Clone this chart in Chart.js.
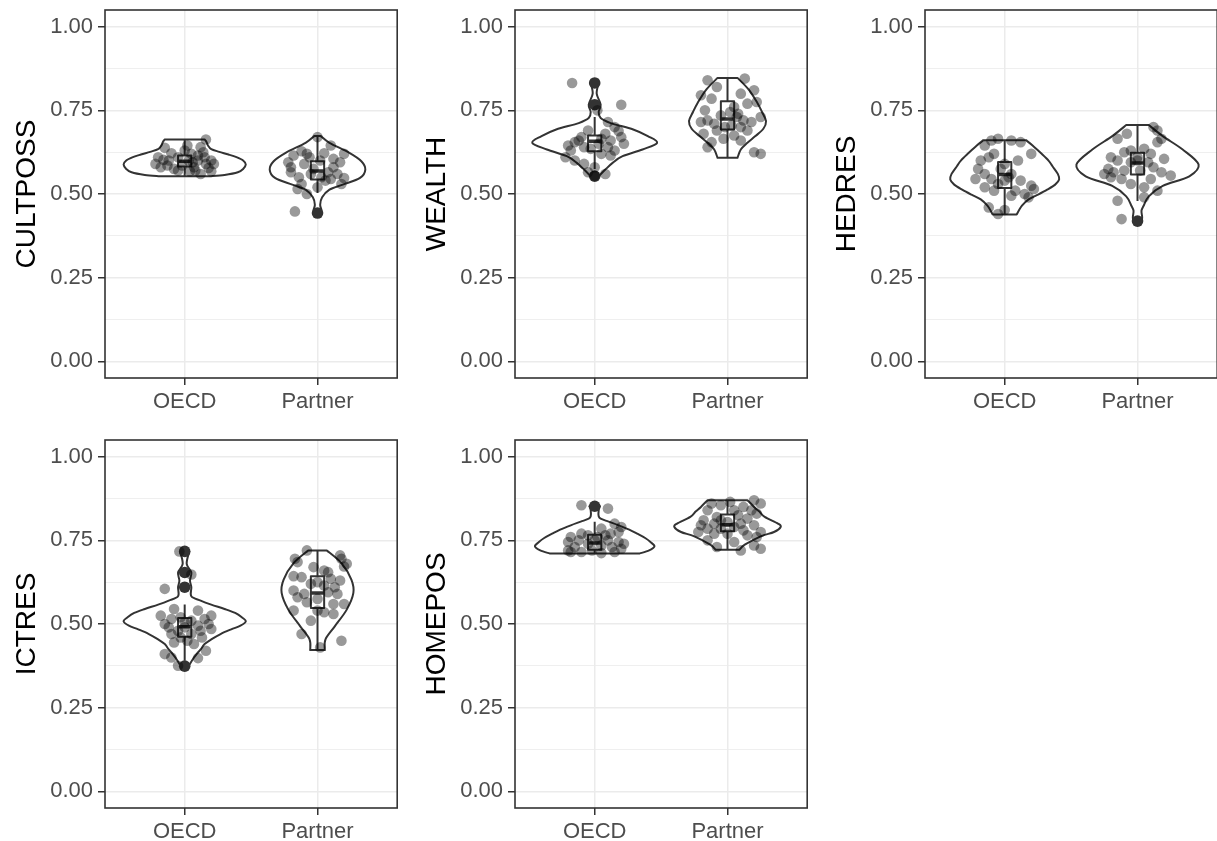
<!DOCTYPE html>
<html>
<head>
<meta charset="utf-8">
<script src="https://cdn.jsdelivr.net/npm/chart.js@4.4.0/dist/chart.umd.min.js"></script>
<style>
  body { margin: 0; background: #fff; overflow: hidden; width: 1217px; height: 841px; position: relative; }
  .panel { position: absolute; width: 403px; height: 420px; }
</style>
</head>
<body>
<div class="panel" style="left:0;top:0"><canvas id="c0" width="403" height="420"></canvas></div>
<div class="panel" style="left:410px;top:0"><canvas id="c1" width="403" height="420"></canvas></div>
<div class="panel" style="left:820px;top:0"><canvas id="c2" width="403" height="420"></canvas></div>
<div class="panel" style="left:0;top:430px"><canvas id="c3" width="403" height="420"></canvas></div>
<div class="panel" style="left:410px;top:430px"><canvas id="c4" width="403" height="420"></canvas></div>
<script>
var groups = ['OECD', 'Partner'];
var yTicks = [0, 0.125, 0.25, 0.375, 0.5, 0.625, 0.75, 0.875, 1];
var yLabels = {0: '0.00', 0.25: '0.25', 0.5: '0.50', 0.75: '0.75', 1: '1.00'};

// jittered points: [offset from group, value]
var cultpossOecd = [[0.16,0.663],[-0.15,0.638],[0.02,0.645],[0.12,0.64],[-0.2,0.61],[-0.22,0.59],[-0.12,0.6],[-0.18,0.58],[-0.08,0.575],[0.05,0.62],[0.1,0.615],[0.15,0.61],[0.2,0.6],[0.22,0.59],[0.18,0.578],[0.08,0.57],[0.12,0.56],[0.2,0.568],[-0.02,0.585],[0.03,0.6],[-0.05,0.61],[0.06,0.595],[0.1,0.6],[-0.1,0.622],[0.0,0.63],[0.14,0.625],[-0.16,0.602],[-0.05,0.57],[0.07,0.58],[0.16,0.59],[0.04,0.568],[-0.13,0.585]];
var cultpossPartner = [[0.0,0.67],[0.1,0.645],[-0.12,0.628],[0.2,0.62],[-0.18,0.615],[-0.08,0.62],[0.05,0.622],[-0.22,0.595],[-0.2,0.58],[0.17,0.595],[0.12,0.58],[-0.1,0.59],[-0.03,0.575],[0.08,0.565],[0.15,0.56],[0.2,0.548],[0.03,0.55],[-0.05,0.56],[-0.14,0.55],[-0.2,0.565],[0.1,0.545],[0.18,0.53],[-0.12,0.53],[-0.15,0.515],[-0.08,0.5],[-0.17,0.448],[0.06,0.54],[0.02,0.6],[-0.06,0.61],[0.12,0.605],[0.0,0.52]];
var wealthOecd = [[-0.17,0.832],[0.2,0.767],[0.02,0.75],[0.1,0.715],[0.15,0.7],[-0.05,0.69],[0.18,0.688],[-0.1,0.67],[0.2,0.67],[0.12,0.66],[0.05,0.665],[-0.15,0.655],[-0.2,0.645],[-0.08,0.64],[0.1,0.64],[0.15,0.63],[-0.03,0.635],[0.22,0.65],[-0.12,0.66],[0.03,0.65],[0.08,0.68],[-0.18,0.63],[-0.22,0.61],[-0.15,0.6],[-0.08,0.59],[0.05,0.62],[0.12,0.615],[0.0,0.58],[-0.05,0.565],[0.08,0.56],[0.0,0.555]];
var wealthPartner = [[-0.15,0.84],[0.13,0.845],[-0.08,0.82],[0.2,0.81],[0.1,0.8],[-0.2,0.795],[-0.12,0.785],[0.22,0.775],[0.15,0.77],[0.05,0.76],[-0.17,0.75],[0.02,0.745],[0.08,0.74],[-0.05,0.735],[-0.15,0.72],[-0.2,0.715],[0.12,0.72],[0.18,0.715],[0.25,0.73],[-0.1,0.71],[0.03,0.705],[0.1,0.7],[-0.08,0.69],[0.15,0.69],[-0.18,0.68],[0.05,0.675],[-0.03,0.665],[0.1,0.66],[-0.12,0.655],[-0.15,0.64],[0.2,0.625],[0.25,0.62],[-0.02,0.7],[0.07,0.73]];
var hedresOecd = [[-0.1,0.66],[-0.05,0.665],[0.05,0.66],[0.12,0.655],[-0.15,0.645],[0.2,0.62],[-0.18,0.6],[-0.12,0.61],[-0.08,0.62],[0.1,0.6],[0.0,0.59],[-0.2,0.575],[-0.03,0.575],[0.05,0.56],[-0.15,0.56],[-0.22,0.545],[-0.1,0.545],[0.0,0.54],[0.12,0.54],[0.2,0.525],[0.22,0.515],[-0.05,0.53],[-0.15,0.52],[-0.08,0.51],[0.08,0.51],[0.15,0.5],[0.18,0.49],[0.05,0.495],[-0.12,0.46],[0.0,0.452],[-0.05,0.44],[0.03,0.55]];
var hedresPartner = [[0.12,0.7],[0.15,0.69],[-0.08,0.68],[-0.15,0.665],[0.18,0.665],[0.15,0.655],[-0.05,0.63],[0.05,0.635],[-0.1,0.625],[0.1,0.62],[-0.2,0.61],[0.0,0.61],[0.2,0.605],[-0.15,0.6],[0.08,0.595],[-0.05,0.595],[0.12,0.58],[-0.22,0.575],[-0.18,0.565],[-0.25,0.56],[-0.1,0.57],[0.02,0.57],[0.18,0.565],[0.25,0.555],[-0.2,0.55],[-0.12,0.545],[0.1,0.545],[-0.05,0.53],[0.05,0.52],[0.15,0.51],[-0.15,0.48],[0.05,0.49],[-0.12,0.425],[0.0,0.6]];
var ictresOecd = [[-0.04,0.717],[0.05,0.648],[-0.15,0.605],[0.1,0.54],[-0.08,0.545],[-0.18,0.525],[0.2,0.525],[0.15,0.515],[-0.1,0.515],[-0.03,0.52],[0.05,0.51],[-0.15,0.5],[0.18,0.5],[0.1,0.495],[0.0,0.49],[-0.12,0.49],[-0.05,0.48],[0.12,0.48],[0.2,0.485],[-0.1,0.47],[0.05,0.47],[0.13,0.46],[-0.03,0.46],[0.02,0.45],[-0.08,0.445],[0.07,0.44],[0.16,0.42],[-0.15,0.41],[-0.1,0.4],[0.1,0.398],[-0.05,0.375],[0.0,0.505]];
var ictresPartner = [[-0.08,0.72],[0.17,0.705],[0.18,0.695],[-0.17,0.695],[-0.15,0.685],[0.22,0.68],[0.2,0.672],[-0.03,0.67],[0.05,0.66],[0.08,0.655],[-0.18,0.643],[-0.12,0.64],[0.1,0.635],[0.17,0.63],[0.0,0.625],[-0.05,0.62],[0.05,0.615],[0.13,0.61],[-0.18,0.6],[-0.1,0.59],[0.08,0.595],[0.15,0.59],[-0.15,0.58],[0.0,0.575],[-0.08,0.565],[0.12,0.56],[0.2,0.56],[-0.18,0.54],[0.0,0.54],[0.05,0.535],[0.12,0.53],[-0.05,0.51],[-0.12,0.47],[0.18,0.45],[0.02,0.43]];
var homeposOecd = [[-0.1,0.855],[0.1,0.845],[0.15,0.8],[0.05,0.785],[0.18,0.775],[0.2,0.79],[0.12,0.77],[-0.1,0.77],[-0.05,0.765],[0.08,0.765],[-0.18,0.76],[0.02,0.76],[-0.12,0.75],[0.1,0.75],[0.18,0.745],[-0.2,0.745],[0.22,0.74],[-0.05,0.74],[0.05,0.735],[0.13,0.73],[-0.15,0.73],[-0.2,0.72],[0.2,0.725],[0.15,0.715],[-0.18,0.715],[-0.1,0.715],[0.05,0.712],[-0.02,0.72],[0.0,0.75]];
var homeposPartner = [[-0.12,0.86],[0.02,0.865],[0.2,0.87],[0.25,0.86],[-0.05,0.855],[0.12,0.85],[-0.15,0.84],[0.05,0.84],[0.18,0.84],[0.22,0.83],[-0.08,0.82],[0.08,0.825],[-0.18,0.81],[0.15,0.815],[-0.05,0.81],[0.0,0.805],[-0.1,0.8],[0.1,0.8],[0.2,0.795],[-0.2,0.795],[-0.15,0.785],[0.05,0.79],[-0.05,0.785],[0.12,0.78],[0.25,0.775],[-0.22,0.775],[-0.1,0.77],[0.0,0.77],[0.15,0.765],[0.22,0.76],[-0.15,0.75],[0.05,0.745],[0.2,0.735],[0.25,0.725],[-0.08,0.73],[0.1,0.72]];

// box stats per group: [lower whisker, q1, median, q3, upper whisker]
var cultpossBox = [[0.553,0.582,0.598,0.615,0.663],[0.503,0.543,0.569,0.598,0.673]];
var wealthBox = [[0.575,0.628,0.658,0.675,0.73],[0.608,0.693,0.724,0.777,0.847]];
var hedresBox = [[0.439,0.518,0.558,0.596,0.661],[0.479,0.558,0.593,0.623,0.706]];
var ictresBox = [[0.39,0.462,0.492,0.518,0.558],[0.422,0.548,0.593,0.643,0.72]];
var homeposBox = [[0.711,0.722,0.742,0.767,0.806],[0.722,0.777,0.797,0.827,0.87]];

var cultpossOut = [[], [0.443]];
var wealthOut = [[0.553,0.767,0.832], []];
var hedresOut = [[], [0.419]];
var ictresOut = [[0.374,0.61,0.654,0.717], []];
var homeposOut = [[0.852], []];

// violin outlines: [value, half width]
var cultpossViolin = [
  [[0.553,0.19],[0.557,0.30],[0.565,0.40],[0.575,0.44],[0.588,0.46],[0.600,0.44],[0.610,0.39],[0.618,0.33],[0.626,0.26],[0.634,0.20],[0.645,0.175],[0.655,0.165],[0.663,0.15]],
  [[0.443,0.02],[0.452,0.03],[0.468,0.02],[0.49,0.035],[0.513,0.09],[0.528,0.19],[0.548,0.32],[0.573,0.36],[0.598,0.33],[0.623,0.24],[0.653,0.09],[0.673,0.025]]
];
var wealthViolin = [
  [[0.553,0.03],[0.573,0.08],[0.593,0.135],[0.613,0.21],[0.633,0.36],[0.653,0.47],[0.673,0.40],[0.693,0.29],[0.712,0.12],[0.727,0.045],[0.745,0.03],[0.767,0.045],[0.80,0.015],[0.832,0.03]],
  [[0.608,0.075],[0.633,0.10],[0.653,0.15],[0.673,0.21],[0.695,0.27],[0.718,0.29],[0.745,0.26],[0.772,0.225],[0.812,0.16],[0.847,0.075]]
];
var hedresViolin = [
  [[0.439,0.09],[0.465,0.13],[0.484,0.18],[0.498,0.25],[0.513,0.32],[0.528,0.38],[0.543,0.41],[0.56,0.40],[0.583,0.36],[0.60,0.33],[0.623,0.27],[0.645,0.21],[0.661,0.16]],
  [[0.419,0.03],[0.43,0.035],[0.45,0.03],[0.464,0.045],[0.493,0.085],[0.524,0.19],[0.553,0.39],[0.588,0.46],[0.633,0.34],[0.673,0.19],[0.706,0.085]]
];
var ictresViolin = [
  [[0.374,0.03],[0.394,0.06],[0.41,0.09],[0.424,0.12],[0.44,0.15],[0.454,0.2],[0.47,0.27],[0.484,0.35],[0.495,0.42],[0.508,0.46],[0.52,0.43],[0.533,0.38],[0.545,0.3],[0.558,0.2],[0.570,0.12],[0.583,0.05],[0.61,0.05],[0.63,0.04],[0.654,0.05],[0.68,0.015],[0.717,0.035]],
  [[0.422,0.055],[0.454,0.06],[0.493,0.13],[0.543,0.22],[0.593,0.27],[0.633,0.255],[0.682,0.18],[0.72,0.07]]
];
var homeposViolin = [
  [[0.711,0.34],[0.72,0.41],[0.732,0.45],[0.745,0.42],[0.757,0.38],[0.77,0.32],[0.782,0.26],[0.795,0.18],[0.806,0.105],[0.815,0.045],[0.822,0.03],[0.84,0.03],[0.852,0.04]],
  [[0.722,0.09],[0.737,0.13],[0.762,0.25],[0.775,0.35],[0.79,0.40],[0.80,0.38],[0.82,0.28],[0.836,0.24],[0.85,0.2],[0.87,0.15]]
];

var panels = [
  { id: 'c0', title: 'CULTPOSS', points: [cultpossOecd, cultpossPartner], box: cultpossBox, out: cultpossOut, violin: cultpossViolin },
  { id: 'c1', title: 'WEALTH', points: [wealthOecd, wealthPartner], box: wealthBox, out: wealthOut, violin: wealthViolin },
  { id: 'c2', title: 'HEDRES', points: [hedresOecd, hedresPartner], box: hedresBox, out: hedresOut, violin: hedresViolin },
  { id: 'c3', title: 'ICTRES', points: [ictresOecd, ictresPartner], box: ictresBox, out: ictresOut, violin: ictresViolin },
  { id: 'c4', title: 'HOMEPOS', points: [homeposOecd, homeposPartner], box: homeposBox, out: homeposOut, violin: homeposViolin }
];

var FONT = "'Liberation Sans', Arial, sans-serif";
var DARK = '#333333';

function smoothThrough(ctx, pts) {
  // catmull-rom through pixel points, path already started at pts[0]
  var n = pts.length;
  for (var i = 0; i < n - 1; i++) {
    var p0 = pts[Math.max(i - 1, 0)], p1 = pts[i], p2 = pts[i + 1], p3 = pts[Math.min(i + 2, n - 1)];
    ctx.bezierCurveTo(
      p1[0] + (p2[0] - p0[0]) / 6, p1[1] + (p2[1] - p0[1]) / 6,
      p2[0] - (p3[0] - p1[0]) / 6, p2[1] - (p3[1] - p1[1]) / 6,
      p2[0], p2[1]);
  }
}

var violinPlugin = {
  id: 'violinBox',
  beforeDatasetsDraw: function (chart, args, opts) {
    var p = chart.config.options.plugins.violinBox.panel;
    var xs = chart.scales.x, ys = chart.scales.y, ctx = chart.ctx;
    ctx.save();
    ctx.beginPath();
    ctx.rect(chart.chartArea.left, chart.chartArea.top, chart.chartArea.width, chart.chartArea.height);
    ctx.clip();
    for (var g = 0; g < 2; g++) {
      var c = g + 1;
      var prof = p.violin[g];
      var right = prof.map(function (d) { return [xs.getPixelForValue(c + d[1]), ys.getPixelForValue(d[0])]; });
      var left = prof.slice().reverse().map(function (d) { return [xs.getPixelForValue(c - d[1]), ys.getPixelForValue(d[0])]; });
      ctx.beginPath();
      ctx.moveTo(right[0][0], right[0][1]);
      smoothThrough(ctx, right);
      ctx.lineTo(left[0][0], left[0][1]);
      smoothThrough(ctx, left);
      ctx.closePath();
      ctx.fillStyle = '#ffffff';
      ctx.fill();
      ctx.lineWidth = 2;
      ctx.strokeStyle = DARK;
      ctx.lineJoin = 'round';
      ctx.stroke();

      // box plot
      var b = p.box[g];
      var xl = xs.getPixelForValue(c - 0.05), xr = xs.getPixelForValue(c + 0.05), xc = xs.getPixelForValue(c);
      ctx.beginPath();
      ctx.moveTo(xc, ys.getPixelForValue(b[0]));
      ctx.lineTo(xc, ys.getPixelForValue(b[1]));
      ctx.moveTo(xc, ys.getPixelForValue(b[3]));
      ctx.lineTo(xc, ys.getPixelForValue(b[4]));
      ctx.lineWidth = 2;
      ctx.stroke();
      var yq3 = ys.getPixelForValue(b[3]), yq1 = ys.getPixelForValue(b[1]);
      ctx.fillStyle = '#ffffff';
      ctx.fillRect(xl, yq3, xr - xl, yq1 - yq3);
      ctx.strokeRect(xl, yq3, xr - xl, yq1 - yq3);
      ctx.beginPath();
      var ym = ys.getPixelForValue(b[2]);
      ctx.moveTo(xl, ym);
      ctx.lineTo(xr, ym);
      ctx.lineWidth = 3.5;
      ctx.stroke();
    }
    ctx.restore();
  },
  afterDraw: function (chart) {
    var a = chart.chartArea, ctx = chart.ctx;
    ctx.save();
    ctx.strokeStyle = DARK;
    ctx.lineWidth = 1.6;
    ctx.strokeRect(a.left, a.top, a.right - a.left, a.bottom - a.top);
    ctx.restore();
  }
};

function makePanel(p) {
  var pts = [], outs = [];
  for (var g = 0; g < 2; g++) {
    p.points[g].forEach(function (d) { pts.push({ x: g + 1 + d[0], y: d[1] }); });
    p.out[g].forEach(function (v) { outs.push({ x: g + 1, y: v }); });
  }
  var isMajor = function (v) { return yLabels.hasOwnProperty(v); };
  new Chart(document.getElementById(p.id).getContext('2d'), {
    type: 'scatter',
    data: {
      datasets: [
        { data: pts, pointRadius: 5.3, pointBackgroundColor: 'rgba(0,0,0,0.4)', pointBorderWidth: 0, pointHoverRadius: 5.3 },
        { data: outs, pointRadius: 5.8, pointBackgroundColor: DARK, pointBorderWidth: 0, pointHoverRadius: 5.8 }
      ]
    },
    options: {
      responsive: false,
      animation: false,
      events: [],
      layout: { padding: { top: 10, right: 0, left: 0, bottom: 0 } },
      plugins: { legend: { display: false }, tooltip: { enabled: false }, violinBox: { panel: p } },
      scales: {
        x: {
          type: 'linear', min: 0.4, max: 2.6,
          afterBuildTicks: function (s) { s.ticks = [{ value: 1 }, { value: 2 }]; },
          afterFit: function (s) { s.height = 42; s.paddingLeft = 0; s.paddingRight = 0; },
          ticks: { callback: function (v) { return groups[v - 1]; }, font: { family: FONT, size: 22 }, color: '#4D4D4D', padding: 4, maxRotation: 0, autoSkip: false },
          grid: { color: '#EBEBEB', lineWidth: 1.5, tickColor: DARK, tickLength: 7, tickWidth: 1.5 },
          border: { display: false }
        },
        y: {
          min: -0.05, max: 1.05,
          afterBuildTicks: function (s) { s.ticks = yTicks.map(function (v) { return { value: v }; }); },
          afterFit: function (s) { s.width = 105; s.paddingTop = 0; s.paddingBottom = 0; },
          ticks: { callback: function (v) { return isMajor(v) ? yLabels[v] : ''; }, font: { family: FONT, size: 22 }, color: '#4D4D4D', padding: 5, autoSkip: false },
          grid: {
            color: '#EBEBEB',
            lineWidth: function (c) { return isMajor(c.tick.value) ? 1.5 : 0.8; },
            tickColor: function (c) { return isMajor(c.tick.value) ? DARK : 'rgba(0,0,0,0)'; },
            tickLength: 7, tickWidth: 1.5
          },
          border: { display: false },
          title: { display: true, text: p.title, color: '#000000', font: { family: FONT, size: 28, lineHeight: 1 }, padding: { top: 13, bottom: 0 } }
        }
      }
    },
    plugins: [violinPlugin]
  });
}

document.addEventListener('DOMContentLoaded', function () {
  panels.forEach(makePanel);
});
</script>
</body>
</html>
